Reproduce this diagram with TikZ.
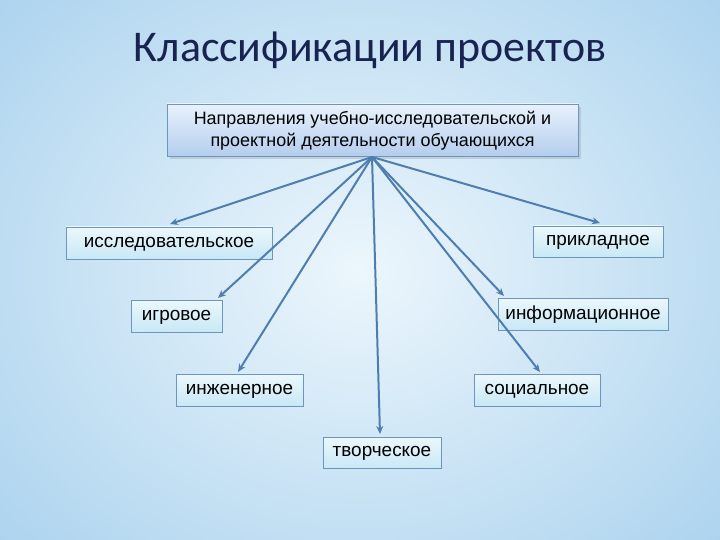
\documentclass[tikz,border=0pt]{standalone}
\usepackage{fontspec}
\setmainfont{Liberation Sans}
\newfontfamily\titlefont{Carlito}
\usetikzlibrary{arrows.meta,shadows}
\definecolor{bgA}{RGB}{236,246,252}
\definecolor{bgB}{RGB}{170,210,238}
\definecolor{boxA}{RGB}{232,242,252}
\definecolor{boxB}{RGB}{180,205,238}
\definecolor{nodeA}{RGB}{235,248,252}
\definecolor{nodeB}{RGB}{200,232,246}
\definecolor{edgec}{RGB}{110,150,185}
\definecolor{linec}{RGB}{80,125,175}
\definecolor{titlec}{RGB}{25,35,80}
\begin{document}
\begin{tikzpicture}[x=1bp,y=-1bp,
  leaf/.style={draw=edgec,line width=0.6pt,top color=nodeA,bottom color=nodeB,
    inner sep=0pt,font=\fontsize{19}{22}\selectfont,text=black,text depth=2pt},
  conn/.style={draw=linec,line width=2pt,-{Stealth[length=8pt,width=7pt]}}]
\useasboundingbox (0,0) rectangle (720,540);
\shade[inner color=bgA,outer color=bgB] (-150,-150) rectangle (870,690);
\node (title) [text=titlec,font=\titlefont\fontsize{44}{48}\selectfont] at (370,50) {Классификации проектов};
\node (top) [leaf,top color=boxA,bottom color=boxB,minimum width=411bp,minimum height=52bp,align=center,font=\fontsize{18}{22}\selectfont,drop shadow={opacity=0.25}] at (372.5,130)
 {Направления учебно-исследовательской и\\проектной деятельности обучающихся};
\coordinate (hub) at (372,157);
\node (a) [leaf,minimum width=206bp,minimum height=32bp] at (169,243) {исследовательское};
\node (b) [leaf,minimum width=130bp,minimum height=31bp] at (598,241.5) {прикладное};
\node (c) [leaf,minimum width=91bp,minimum height=32bp] at (176.5,316) {игровое};
\node (d) [leaf,minimum width=170bp,minimum height=32bp] at (583,314) {информационное};
\node (e) [leaf,minimum width=127bp,minimum height=32bp] at (239.5,390) {инженерное};
\node (f) [leaf,minimum width=126bp,minimum height=32bp] at (537,390) {социальное};
\node (g) [leaf,minimum width=118bp,minimum height=31bp] at (382,452.5) {творческое};
\draw[conn] (hub) -- (170,224);
\draw[conn] (hub) -- (600,223);
\draw[conn] (hub) -- (218,298);
\draw[conn] (hub) -- (504,296);
\draw[conn] (hub) -- (238,372);
\draw[conn] (hub) -- (540,372);
\draw[conn] (hub) -- (380,434);
\end{tikzpicture}
\end{document}
